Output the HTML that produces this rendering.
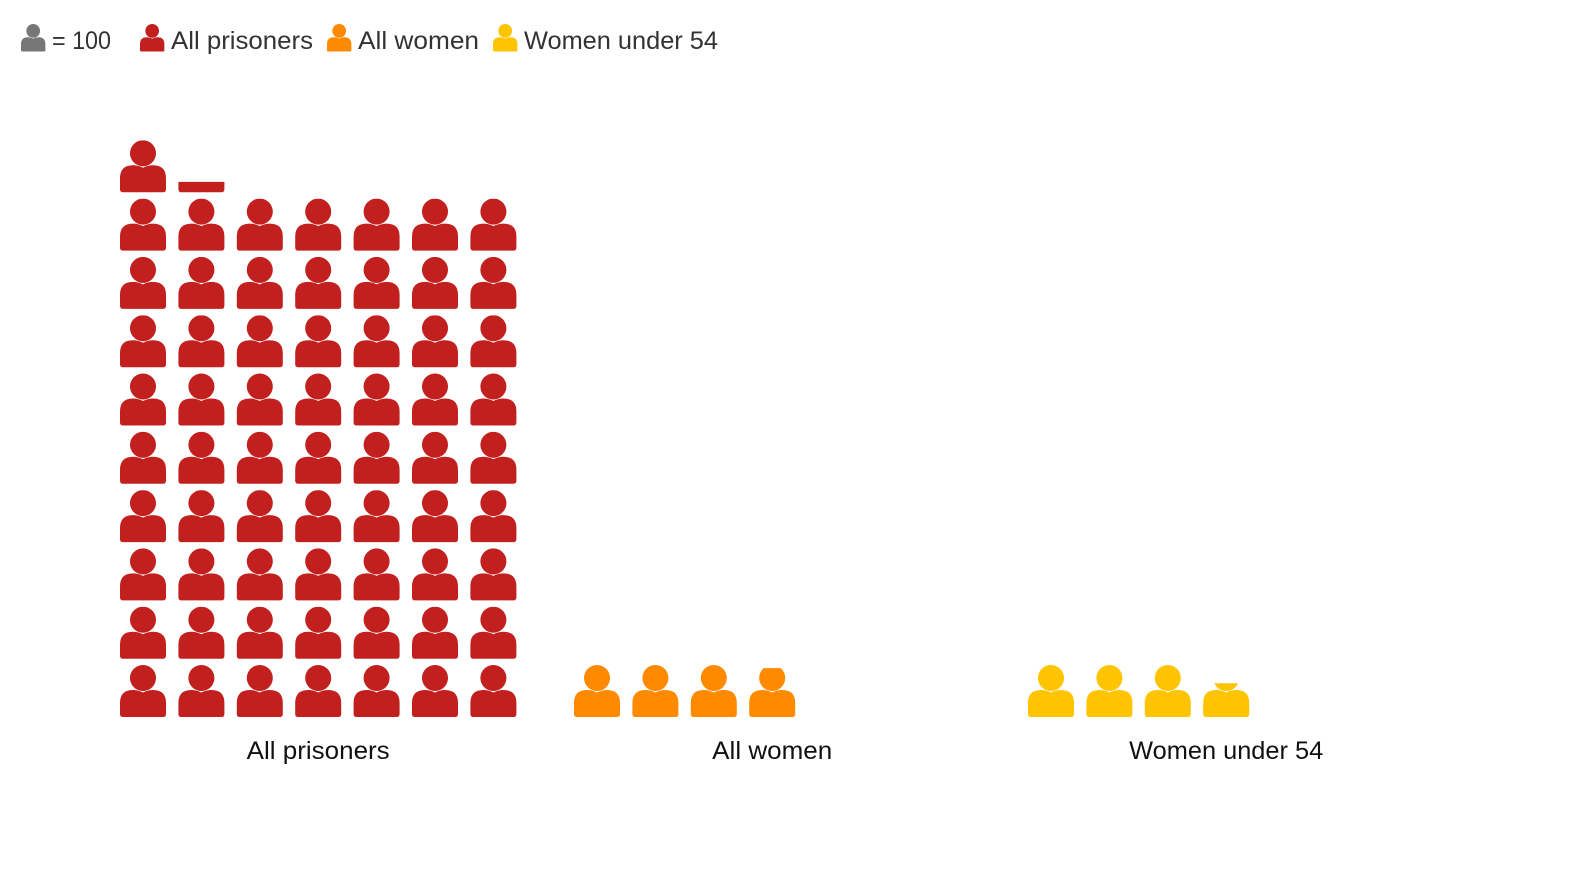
<!DOCTYPE html>
<html><head><meta charset="utf-8"><style>
body{margin:0;background:#fff;width:1592px;height:880px;overflow:hidden;font-family:"Liberation Sans",sans-serif;}
svg{position:absolute;left:0;top:0}
</style></head><body>
<svg id="chart" width="1592" height="880" viewBox="0 0 1592 880">
<defs id="defs">
<path id="person" d="M23,0 A13,13 0 1 1 22.99,0 Z M0,49 V38 Q0,25 13,25 Q18,25 23,27.5 Q28,25 33,25 Q46,25 46,38 V49 Q46,52 43,52 H3 Q0,52 0,49 Z"/>
</defs>
<g id="legend"></g>
<g id="groups"></g>
</svg>
<script>
const categories = ["All prisoners","All women","Women under 54"];
const values = [6420, 394, 365];
const unitSize = 100;
const colors = ["#c1201f","#ff8a00","#ffc400"];
const legendLabels = ["= 100","All prisoners","All women","Women under 54"];

const NS="http://www.w3.org/2000/svg";
const defs=document.getElementById('defs');
const groups=document.getElementById('groups');
const cols=7, colW=58.4, rowH=58.3, iconW=46, iconH=52;
const baseY=717, firstX=120, groupGap=454;
const catLabelW=[143,120,194];
function gx(g,c){return firstX+g*groupGap+c*colW;}
function gy(r){return baseY-iconH-r*rowH;}

categories.forEach((cat,g)=>{
  const grp=document.createElementNS(NS,'g');
  
  
  groups.appendChild(grp);
  const units=values[g]/unitSize;
  const n=Math.ceil(units);
  for(let i=0;i<n;i++){
    const frac=Math.min(1,units-i);
    const c=i%cols, r=Math.floor(i/cols);
    const x=gx(g,c), y=gy(r);
    const cpId='cp'+g+'_'+i;
    const cp=document.createElementNS(NS,'clipPath');
    cp.setAttribute('id',cpId);
    cp.setAttribute('clipPathUnits','userSpaceOnUse');
    const rc=document.createElementNS(NS,'rect');
    rc.setAttribute('x',x-1);rc.setAttribute('y',y+iconH*(1-frac));
    rc.setAttribute('width',iconW+2);rc.setAttribute('height',iconH*frac+1);
    cp.appendChild(rc);defs.appendChild(cp);
    const wrap=document.createElementNS(NS,'g');
    wrap.setAttribute('clip-path','url(#'+cpId+')');
    
    
    const u=document.createElementNS(NS,'use');
    u.setAttribute('href','#person');
    u.setAttribute('transform','translate('+x+','+y+')');
    u.setAttribute('fill',colors[g]);
    wrap.appendChild(u);
    grp.appendChild(wrap);
  }
  const t=document.createElementNS(NS,'text');
  t.setAttribute('x',gx(g,3)+iconW/2);t.setAttribute('y',759);
  t.setAttribute('text-anchor','middle');t.setAttribute('font-size','25');
  t.setAttribute('fill','#111');
  t.setAttribute('textLength',catLabelW[g]);
  t.setAttribute('lengthAdjust','spacingAndGlyphs');
  t.textContent=cat;
  
  
  grp.appendChild(t);
});

const legend=document.getElementById('legend');
const legColors=["#777777"].concat(colors);
const legX=[21,140,327,493];
const legTextW=[59,142,121,194];
legendLabels.forEach((lab,i)=>{
  const u=document.createElementNS(NS,'use');
  u.setAttribute('href','#person');
  u.setAttribute('transform','translate('+legX[i]+',24) scale(0.53)');
  u.setAttribute('fill',legColors[i]);
  
  
  legend.appendChild(u);
  const t=document.createElementNS(NS,'text');
  t.setAttribute('x',legX[i]+31);t.setAttribute('y',49);
  t.setAttribute('font-size','25');t.setAttribute('fill','#333');
  t.setAttribute('textLength',legTextW[i]);
  t.setAttribute('lengthAdjust','spacingAndGlyphs');
  t.textContent=lab;
  
  
  legend.appendChild(t);
});
</script>
</body></html>
